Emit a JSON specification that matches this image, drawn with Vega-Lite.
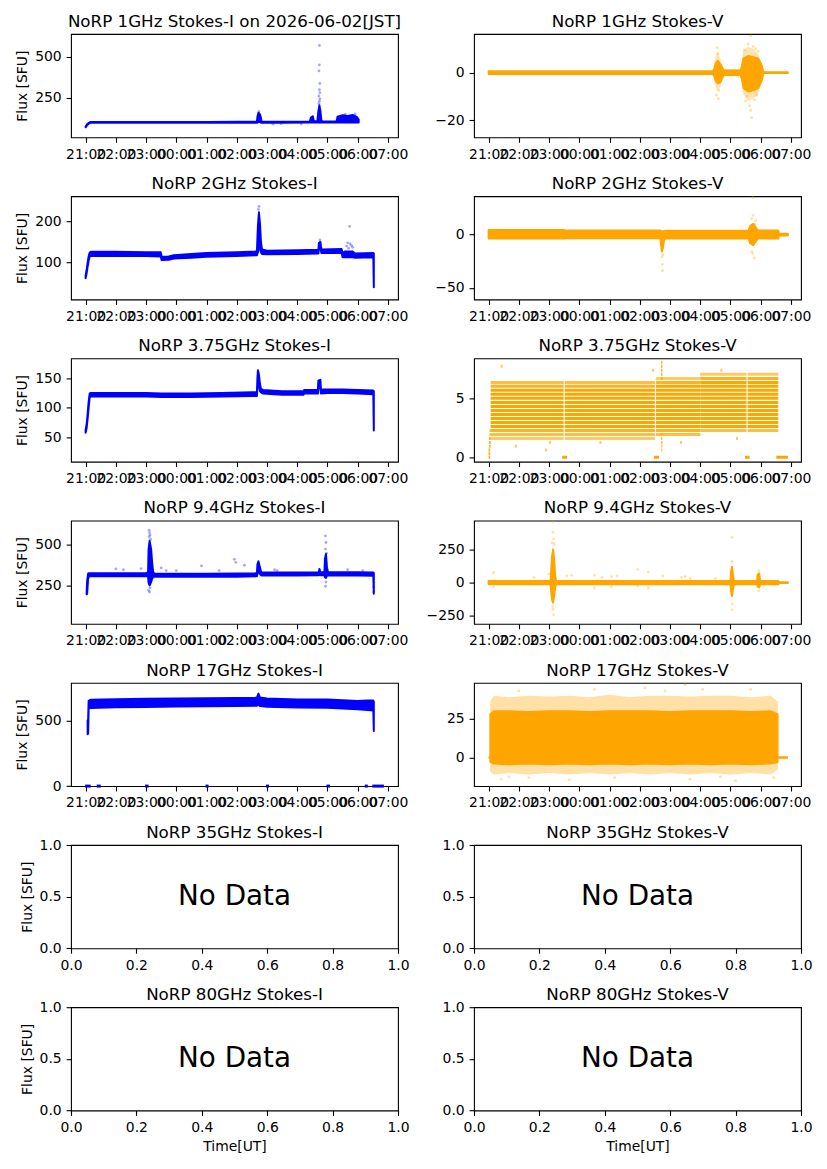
{
"$schema": "https://vega.github.io/schema/vega-lite/v6.json",
"background": "white",
"padding": {"left": 15, "top": 13, "right": 10, "bottom": 10},
"spacing": 13.2,
"resolve": {"scale": {"x": "independent", "y": "independent"}},
"config": {
  "font": "DejaVu Sans",
  "view": {"stroke": "#000000", "strokeWidth": 1.1},
  "axis": {"domain": false, "grid": false, "tickColor": "#000000", "tickWidth": 1.1, "tickSize": 4.9, "labelColor": "#000000", "labelFont": "DejaVu Sans", "labelFontSize": 13.9, "labelPadding": 4.9, "labelOverlap": false, "labelFlush": false, "titleColor": "#000000", "titleFont": "DejaVu Sans", "titleFontSize": 13.9, "titleFontWeight": "normal", "titlePadding": 5},
  "title": {"font": "DejaVu Sans", "fontSize": 16.7, "fontWeight": "normal", "color": "#000000", "offset": 3.6}
},
"vconcat": [
{"hconcat": [
{
 "title": "NoRP 1GHz Stokes-I on 2026-06-02[JST]", "width": 327, "height": 103.3,
 "encoding": {
  "x": {"field": "t", "type": "temporal", "scale": {"type": "utc", "nice": false, "domain": [1780345860000, 1780384800000]}, "axis": {"title": null, "format": "%H:%M", "values": [1780347600000, 1780351200000, 1780354800000, 1780358400000, 1780362000000, 1780365600000, 1780369200000, 1780372800000, 1780376400000, 1780380000000, 1780383600000]}},
  "y": {"field": "v", "type": "quantitative", "scale": {"domain": [10, 640], "nice": false, "zero": false}, "axis": {"title": "Flux [SFU]", "values": [250, 500]}}
 },
 "layer": [
  {"data": {"values": [
   {"t":"2026-06-01T21:00:00Z","v":71,"v2":75},{"t":"2026-06-01T21:02:00Z","v":79,"v2":85},{"t":"2026-06-01T21:04:00Z","v":87,"v2":93},{"t":"2026-06-01T21:07:00Z","v":95,"v2":100},{"t":"2026-06-01T21:10:00Z","v":98,"v2":104},{"t":"2026-06-01T22:00:00Z","v":98,"v2":104},{"t":"2026-06-01T23:00:00Z","v":98,"v2":104},{"t":"2026-06-02T00:00:00Z","v":98,"v2":104},{"t":"2026-06-02T01:00:00Z","v":99,"v2":104},{"t":"2026-06-02T02:00:00Z","v":99,"v2":105},{"t":"2026-06-02T02:40:00Z","v":99,"v2":105},{"t":"2026-06-02T02:41:00Z","v":100,"v2":135},{"t":"2026-06-02T02:43:00Z","v":104,"v2":160},{"t":"2026-06-02T02:46:00Z","v":104,"v2":150},{"t":"2026-06-02T02:48:00Z","v":100,"v2":128},{"t":"2026-06-02T02:49:00Z","v":99,"v2":105},{"t":"2026-06-02T03:30:00Z","v":99,"v2":105},{"t":"2026-06-02T04:25:00Z","v":100,"v2":106},{"t":"2026-06-02T04:27:00Z","v":100,"v2":130},{"t":"2026-06-02T04:31:00Z","v":100,"v2":138},{"t":"2026-06-02T04:33:00Z","v":100,"v2":106},{"t":"2026-06-02T04:40:00Z","v":100,"v2":110},{"t":"2026-06-02T04:42:00Z","v":100,"v2":170},{"t":"2026-06-02T04:44:00Z","v":100,"v2":205},{"t":"2026-06-02T04:46:00Z","v":100,"v2":170},{"t":"2026-06-02T04:48:00Z","v":100,"v2":112},{"t":"2026-06-02T04:50:00Z","v":100,"v2":106},{"t":"2026-06-02T05:18:00Z","v":100,"v2":107},{"t":"2026-06-02T05:20:00Z","v":100,"v2":135},{"t":"2026-06-02T05:30:00Z","v":100,"v2":145},{"t":"2026-06-02T05:40:00Z","v":100,"v2":140},{"t":"2026-06-02T05:50:00Z","v":100,"v2":146},{"t":"2026-06-02T05:58:00Z","v":100,"v2":135},{"t":"2026-06-02T06:02:00Z","v":100,"v2":118}
  ]}, "mark": {"type": "area", "fill": "#0000ff", "stroke": "#0000ff", "strokeWidth": 2, "strokeJoin": "round", "clip": true}, "encoding": {"y2": {"field": "v2"}}},
  {"data": {"values": [
   {"t":"2026-06-02T04:44:00Z","v":570},{"t":"2026-06-02T04:44:00Z","v":452},{"t":"2026-06-02T04:43:00Z","v":415},{"t":"2026-06-02T04:45:00Z","v":338},{"t":"2026-06-02T04:44:00Z","v":300},{"t":"2026-06-02T04:45:00Z","v":282},{"t":"2026-06-02T04:43:00Z","v":262},{"t":"2026-06-02T04:45:00Z","v":244},{"t":"2026-06-02T04:44:00Z","v":230},{"t":"2026-06-02T04:43:00Z","v":215},{"t":"2026-06-02T02:44:00Z","v":168},{"t":"2026-06-02T03:12:00Z","v":90},{"t":"2026-06-02T03:28:00Z","v":93},{"t":"2026-06-02T04:08:00Z","v":92},{"t":"2026-06-02T05:35:00Z","v":150},{"t":"2026-06-02T05:55:00Z","v":152}
  ]}, "mark": {"type": "point", "filled": true, "size": 8, "color": "#0000ff", "opacity": 0.35, "clip": true}, "encoding": {}}
 ]
},
{
 "title": "NoRP 1GHz Stokes-V", "width": 327, "height": 103.3,
 "encoding": {
  "x": {"field": "t", "type": "temporal", "scale": {"type": "utc", "nice": false, "domain": [1780345860000, 1780384800000]}, "axis": {"title": null, "format": "%H:%M", "values": [1780347600000, 1780351200000, 1780354800000, 1780358400000, 1780362000000, 1780365600000, 1780369200000, 1780372800000, 1780376400000, 1780380000000, 1780383600000]}},
  "y": {"field": "v", "type": "quantitative", "scale": {"domain": [-27.3, 16.3], "nice": false, "zero": false}, "axis": {"title": null, "values": [-20, 0]}}
 },
 "layer": [
  {"data": {"values": [
   {"t":"2026-06-02T04:26:00Z","v":-1,"v2":1},{"t":"2026-06-02T04:29:00Z","v":-5,"v2":6},{"t":"2026-06-02T04:34:00Z","v":-8,"v2":9},{"t":"2026-06-02T04:40:00Z","v":-6,"v2":6},{"t":"2026-06-02T04:45:00Z","v":-1.5,"v2":1.5},{"t":"2026-06-02T05:21:00Z","v":-1.5,"v2":1.5},{"t":"2026-06-02T05:25:00Z","v":-9,"v2":9},{"t":"2026-06-02T05:35:00Z","v":-12,"v2":11},{"t":"2026-06-02T05:45:00Z","v":-11,"v2":10},{"t":"2026-06-02T05:55:00Z","v":-9,"v2":8},{"t":"2026-06-02T06:03:00Z","v":-3,"v2":3},{"t":"2026-06-02T06:05:00Z","v":-0.6,"v2":0.6}
  ]}, "mark": {"type": "area", "fill": "#ffa500", "opacity": 0.3, "clip": true}, "encoding": {"y2": {"field": "v2"}}},
  {"data": {"values": [
   {"t":"2026-06-01T21:00:00Z","v":-0.55,"v2":0.55},{"t":"2026-06-02T04:25:00Z","v":-0.6,"v2":0.6},{"t":"2026-06-02T04:28:00Z","v":-1.5,"v2":1.5},{"t":"2026-06-02T04:31:00Z","v":-3.5,"v2":4},{"t":"2026-06-02T04:35:00Z","v":-4.5,"v2":5},{"t":"2026-06-02T04:40:00Z","v":-4,"v2":3.5},{"t":"2026-06-02T04:44:00Z","v":-2,"v2":2},{"t":"2026-06-02T04:47:00Z","v":-0.9,"v2":0.9},{"t":"2026-06-02T05:20:00Z","v":-1,"v2":1},{"t":"2026-06-02T05:23:00Z","v":-3,"v2":3},{"t":"2026-06-02T05:26:00Z","v":-6.5,"v2":6},{"t":"2026-06-02T05:35:00Z","v":-8,"v2":7},{"t":"2026-06-02T05:45:00Z","v":-7.5,"v2":6.5},{"t":"2026-06-02T05:55:00Z","v":-6.5,"v2":6},{"t":"2026-06-02T06:02:00Z","v":-3.5,"v2":3},{"t":"2026-06-02T06:05:00Z","v":-0.6,"v2":0.6},{"t":"2026-06-02T06:07:00Z","v":-0.15,"v2":0.15},{"t":"2026-06-02T06:54:00Z","v":-0.15,"v2":0.15}
  ]}, "mark": {"type": "area", "fill": "#ffa500", "stroke": "#ffa500", "strokeWidth": 2, "strokeJoin": "round", "clip": true}, "encoding": {"y2": {"field": "v2"}}},
  {"data": {"values": [
   {"t":"2026-06-02T04:33:00Z","v":10.5},{"t":"2026-06-02T04:35:00Z","v":8},{"t":"2026-06-02T04:37:00Z","v":-7.5},{"t":"2026-06-02T04:32:00Z","v":-9.5},{"t":"2026-06-02T04:36:00Z","v":-11},{"t":"2026-06-02T05:40:00Z","v":15.5},{"t":"2026-06-02T05:35:00Z","v":12},{"t":"2026-06-02T05:45:00Z","v":11},{"t":"2026-06-02T05:50:00Z","v":10},{"t":"2026-06-02T05:30:00Z","v":-12},{"t":"2026-06-02T05:38:00Z","v":-14},{"t":"2026-06-02T05:42:00Z","v":-19},{"t":"2026-06-02T05:48:00Z","v":-11.5},{"t":"2026-06-02T05:40:00Z","v":-16},{"t":"2026-06-02T05:28:00Z","v":9.5},{"t":"2026-06-02T05:55:00Z","v":9},{"t":"2026-06-02T05:52:00Z","v":-9.5},{"t":"2026-06-02T05:33:00Z","v":-10}
  ]}, "mark": {"type": "point", "filled": true, "size": 8, "color": "#ffa500", "opacity": 0.35, "clip": true}, "encoding": {}}
 ]
}
], "spacing": 76, "bounds": "flush", "resolve": {"scale": {"x": "independent", "y": "independent"}}},
{"hconcat": [
{
 "title": "NoRP 2GHz Stokes-I", "width": 327, "height": 103.3,
 "encoding": {
  "x": {"field": "t", "type": "temporal", "scale": {"type": "utc", "nice": false, "domain": [1780345860000, 1780384800000]}, "axis": {"title": null, "format": "%H:%M", "values": [1780347600000, 1780351200000, 1780354800000, 1780358400000, 1780362000000, 1780365600000, 1780369200000, 1780372800000, 1780376400000, 1780380000000, 1780383600000]}},
  "y": {"field": "v", "type": "quantitative", "scale": {"domain": [10.5, 261], "nice": false, "zero": false}, "axis": {"title": "Flux [SFU]", "values": [100, 200]}}
 },
 "layer": [
  {"data": {"values": [
   {"t":"2026-06-01T21:00:00Z","v":62,"v2":68},{"t":"2026-06-01T21:02:00Z","v":74,"v2":82},{"t":"2026-06-01T21:04:00Z","v":90,"v2":100},{"t":"2026-06-01T21:06:00Z","v":105,"v2":115},{"t":"2026-06-01T21:08:00Z","v":114,"v2":124},{"t":"2026-06-01T21:10:00Z","v":116,"v2":126},{"t":"2026-06-01T22:00:00Z","v":116,"v2":126},{"t":"2026-06-01T23:00:00Z","v":116,"v2":125},{"t":"2026-06-01T23:29:00Z","v":115,"v2":125},{"t":"2026-06-01T23:31:00Z","v":106,"v2":114},{"t":"2026-06-01T23:45:00Z","v":107,"v2":115},{"t":"2026-06-01T23:55:00Z","v":110,"v2":118},{"t":"2026-06-02T00:30:00Z","v":112,"v2":121},{"t":"2026-06-02T01:00:00Z","v":114,"v2":123},{"t":"2026-06-02T02:00:00Z","v":116,"v2":125},{"t":"2026-06-02T02:40:00Z","v":118,"v2":127},{"t":"2026-06-02T02:42:00Z","v":125,"v2":190},{"t":"2026-06-02T02:44:00Z","v":140,"v2":222},{"t":"2026-06-02T02:46:00Z","v":135,"v2":195},{"t":"2026-06-02T02:48:00Z","v":125,"v2":150},{"t":"2026-06-02T02:50:00Z","v":121,"v2":132},{"t":"2026-06-02T03:00:00Z","v":120,"v2":129},{"t":"2026-06-02T04:00:00Z","v":121,"v2":130},{"t":"2026-06-02T04:42:00Z","v":122,"v2":131},{"t":"2026-06-02T04:43:00Z","v":133,"v2":148},{"t":"2026-06-02T04:46:00Z","v":136,"v2":150},{"t":"2026-06-02T04:48:00Z","v":123,"v2":132},{"t":"2026-06-02T05:28:00Z","v":124,"v2":133},{"t":"2026-06-02T05:30:00Z","v":113,"v2":123},{"t":"2026-06-02T05:35:00Z","v":113,"v2":127},{"t":"2026-06-02T05:50:00Z","v":113,"v2":127},{"t":"2026-06-02T05:55:00Z","v":112,"v2":122},{"t":"2026-06-02T06:31:00Z","v":113,"v2":123},{"t":"2026-06-02T06:32:00Z","v":40,"v2":122}
  ]}, "mark": {"type": "area", "fill": "#0000ff", "stroke": "#0000ff", "strokeWidth": 2, "strokeJoin": "round", "clip": true}, "encoding": {"y2": {"field": "v2"}}},
  {"data": {"values": [
   {"t":"2026-06-02T02:44:00Z","v":236},{"t":"2026-06-02T02:43:00Z","v":229},{"t":"2026-06-02T05:44:00Z","v":188},{"t":"2026-06-02T05:40:00Z","v":148},{"t":"2026-06-02T05:45:00Z","v":145},{"t":"2026-06-02T05:48:00Z","v":141},{"t":"2026-06-02T05:38:00Z","v":140},{"t":"2026-06-02T05:50:00Z","v":137},{"t":"2026-06-02T04:45:00Z","v":155},{"t":"2026-06-02T05:42:00Z","v":135}
  ]}, "mark": {"type": "point", "filled": true, "size": 8, "color": "#0000ff", "opacity": 0.35, "clip": true}, "encoding": {}}
 ]
},
{
 "title": "NoRP 2GHz Stokes-V", "width": 327, "height": 103.3,
 "encoding": {
  "x": {"field": "t", "type": "temporal", "scale": {"type": "utc", "nice": false, "domain": [1780345860000, 1780384800000]}, "axis": {"title": null, "format": "%H:%M", "values": [1780347600000, 1780351200000, 1780354800000, 1780358400000, 1780362000000, 1780365600000, 1780369200000, 1780372800000, 1780376400000, 1780380000000, 1780383600000]}},
  "y": {"field": "v", "type": "quantitative", "scale": {"domain": [-61, 36], "nice": false, "zero": false}, "axis": {"title": null, "values": [-50, 0]}}
 },
 "layer": [
  {"data": {"values": [
   {"t":"2026-06-01T21:00:00Z","v":-3.8,"v2":4.2},{"t":"2026-06-01T23:30:00Z","v":-3.8,"v2":4.2},{"t":"2026-06-01T23:31:00Z","v":-3.5,"v2":3.8},{"t":"2026-06-02T02:41:00Z","v":-3.5,"v2":3.8},{"t":"2026-06-02T02:42:00Z","v":-9,"v2":3},{"t":"2026-06-02T02:44:00Z","v":-16,"v2":3},{"t":"2026-06-02T02:46:00Z","v":-12,"v2":3},{"t":"2026-06-02T02:48:00Z","v":-6,"v2":3},{"t":"2026-06-02T02:50:00Z","v":-3.5,"v2":3.5},{"t":"2026-06-02T05:36:00Z","v":-3.8,"v2":3.8},{"t":"2026-06-02T05:39:00Z","v":-8,"v2":8},{"t":"2026-06-02T05:45:00Z","v":-10,"v2":10},{"t":"2026-06-02T05:51:00Z","v":-6,"v2":6},{"t":"2026-06-02T05:54:00Z","v":-3.8,"v2":3.8},{"t":"2026-06-02T06:35:00Z","v":-3.8,"v2":3.8},{"t":"2026-06-02T06:36:00Z","v":-0.8,"v2":0.8},{"t":"2026-06-02T06:54:00Z","v":-0.8,"v2":0.8}
  ]}, "mark": {"type": "area", "fill": "#ffa500", "stroke": "#ffa500", "strokeWidth": 2, "strokeJoin": "round", "clip": true}, "encoding": {"y2": {"field": "v2"}}},
  {"data": {"values": [
   {"t":"2026-06-02T02:44:00Z","v":-21},{"t":"2026-06-02T02:45:00Z","v":-28},{"t":"2026-06-02T02:45:00Z","v":-34},{"t":"2026-06-02T02:46:00Z","v":-19},{"t":"2026-06-02T05:45:00Z","v":18},{"t":"2026-06-02T05:42:00Z","v":15},{"t":"2026-06-02T05:44:00Z","v":35},{"t":"2026-06-02T05:44:00Z","v":-18},{"t":"2026-06-02T05:47:00Z","v":-22},{"t":"2026-06-02T05:42:00Z","v":-16},{"t":"2026-06-02T05:48:00Z","v":10},{"t":"2026-06-02T05:50:00Z","v":13}
  ]}, "mark": {"type": "point", "filled": true, "size": 8, "color": "#ffa500", "opacity": 0.35, "clip": true}, "encoding": {}}
 ]
}
], "spacing": 76, "bounds": "flush", "resolve": {"scale": {"x": "independent", "y": "independent"}}},
{"hconcat": [
{
 "title": "NoRP 3.75GHz Stokes-I", "width": 327, "height": 103.3,
 "encoding": {
  "x": {"field": "t", "type": "temporal", "scale": {"type": "utc", "nice": false, "domain": [1780345860000, 1780384800000]}, "axis": {"title": null, "format": "%H:%M", "values": [1780347600000, 1780351200000, 1780354800000, 1780358400000, 1780362000000, 1780365600000, 1780369200000, 1780372800000, 1780376400000, 1780380000000, 1780383600000]}},
  "y": {"field": "v", "type": "quantitative", "scale": {"domain": [9.6, 183], "nice": false, "zero": false}, "axis": {"title": "Flux [SFU]", "values": [50, 100, 150]}}
 },
 "layer": [
  {"data": {"values": [
   {"t":"2026-06-01T21:00:00Z","v":58,"v2":63},{"t":"2026-06-01T21:02:00Z","v":66,"v2":72},{"t":"2026-06-01T21:04:00Z","v":82,"v2":90},{"t":"2026-06-01T21:06:00Z","v":100,"v2":110},{"t":"2026-06-01T21:08:00Z","v":117,"v2":124},{"t":"2026-06-01T21:10:00Z","v":119,"v2":125},{"t":"2026-06-01T22:00:00Z","v":119,"v2":125},{"t":"2026-06-01T23:00:00Z","v":119,"v2":125},{"t":"2026-06-01T23:30:00Z","v":118,"v2":124},{"t":"2026-06-02T00:30:00Z","v":118,"v2":124},{"t":"2026-06-02T01:30:00Z","v":119,"v2":125},{"t":"2026-06-02T02:30:00Z","v":120,"v2":126},{"t":"2026-06-02T02:40:00Z","v":120,"v2":126},{"t":"2026-06-02T02:41:00Z","v":135,"v2":150},{"t":"2026-06-02T02:42:00Z","v":145,"v2":163},{"t":"2026-06-02T02:44:00Z","v":138,"v2":156},{"t":"2026-06-02T02:46:00Z","v":128,"v2":140},{"t":"2026-06-02T02:48:00Z","v":126,"v2":132},{"t":"2026-06-02T02:52:00Z","v":124,"v2":130},{"t":"2026-06-02T03:30:00Z","v":122,"v2":128},{"t":"2026-06-02T04:12:00Z","v":122,"v2":128},{"t":"2026-06-02T04:14:00Z","v":124,"v2":130},{"t":"2026-06-02T04:41:00Z","v":124,"v2":130},{"t":"2026-06-02T04:42:00Z","v":132,"v2":146},{"t":"2026-06-02T04:46:00Z","v":135,"v2":147},{"t":"2026-06-02T04:47:00Z","v":124,"v2":131},{"t":"2026-06-02T05:00:00Z","v":125,"v2":131},{"t":"2026-06-02T05:30:00Z","v":125,"v2":131},{"t":"2026-06-02T06:00:00Z","v":124,"v2":130},{"t":"2026-06-02T06:31:00Z","v":123,"v2":129},{"t":"2026-06-02T06:32:00Z","v":62,"v2":128}
  ]}, "mark": {"type": "area", "fill": "#0000ff", "stroke": "#0000ff", "strokeWidth": 2, "strokeJoin": "round", "clip": true}, "encoding": {"y2": {"field": "v2"}}}
 ]
},
{
 "title": "NoRP 3.75GHz Stokes-V", "width": 327, "height": 103.3,
 "encoding": {
  "x": {"field": "t", "type": "temporal", "scale": {"type": "utc", "nice": false, "domain": [1780345860000, 1780384800000]}, "axis": {"title": null, "format": "%H:%M", "values": [1780347600000, 1780351200000, 1780354800000, 1780358400000, 1780362000000, 1780365600000, 1780369200000, 1780372800000, 1780376400000, 1780380000000, 1780383600000]}},
  "y": {"field": "v", "type": "quantitative", "scale": {"domain": [-0.37, 8.46], "nice": false, "zero": false}, "axis": {"title": null, "values": [0, 5]}}
 },
 "layer": [
  {"data": {"format": {"parse": {"t": "date", "t2": "date"}}, "values": [
   {"t":"2026-06-01T21:04:00Z","t2":"2026-06-01T23:29:00Z","v":1.61,"d":"faint"},{"t":"2026-06-01T21:04:00Z","t2":"2026-06-01T23:29:00Z","v":1.95,"d":"sparse"},{"t":"2026-06-01T21:04:00Z","t2":"2026-06-01T23:29:00Z","v":2.29,"d":"medium"},{"t":"2026-06-01T21:04:00Z","t2":"2026-06-01T23:29:00Z","v":2.63,"d":"dense"},{"t":"2026-06-01T21:04:00Z","t2":"2026-06-01T23:29:00Z","v":2.98,"d":"dense"},{"t":"2026-06-01T21:04:00Z","t2":"2026-06-01T23:29:00Z","v":3.32,"d":"dense"},{"t":"2026-06-01T21:04:00Z","t2":"2026-06-01T23:29:00Z","v":3.66,"d":"dense"},{"t":"2026-06-01T21:04:00Z","t2":"2026-06-01T23:29:00Z","v":4.0,"d":"dense"},{"t":"2026-06-01T21:04:00Z","t2":"2026-06-01T23:29:00Z","v":4.35,"d":"dense"},{"t":"2026-06-01T21:04:00Z","t2":"2026-06-01T23:29:00Z","v":4.69,"d":"dense"},{"t":"2026-06-01T21:04:00Z","t2":"2026-06-01T23:29:00Z","v":5.05,"d":"dense"},{"t":"2026-06-01T21:04:00Z","t2":"2026-06-01T23:29:00Z","v":5.4,"d":"dense"},{"t":"2026-06-01T21:04:00Z","t2":"2026-06-01T23:29:00Z","v":5.74,"d":"dense"},{"t":"2026-06-01T21:04:00Z","t2":"2026-06-01T23:29:00Z","v":6.07,"d":"medium"},{"t":"2026-06-01T21:04:00Z","t2":"2026-06-01T23:29:00Z","v":6.41,"d":"sparse"},
   {"t":"2026-06-01T23:31:00Z","t2":"2026-06-02T02:30:00Z","v":1.61,"d":"faint"},{"t":"2026-06-01T23:31:00Z","t2":"2026-06-02T02:30:00Z","v":1.95,"d":"sparse"},{"t":"2026-06-01T23:31:00Z","t2":"2026-06-02T02:30:00Z","v":2.29,"d":"medium"},{"t":"2026-06-01T23:31:00Z","t2":"2026-06-02T02:30:00Z","v":2.63,"d":"dense"},{"t":"2026-06-01T23:31:00Z","t2":"2026-06-02T02:30:00Z","v":2.98,"d":"dense"},{"t":"2026-06-01T23:31:00Z","t2":"2026-06-02T02:30:00Z","v":3.32,"d":"dense"},{"t":"2026-06-01T23:31:00Z","t2":"2026-06-02T02:30:00Z","v":3.66,"d":"dense"},{"t":"2026-06-01T23:31:00Z","t2":"2026-06-02T02:30:00Z","v":4.0,"d":"dense"},{"t":"2026-06-01T23:31:00Z","t2":"2026-06-02T02:30:00Z","v":4.35,"d":"dense"},{"t":"2026-06-01T23:31:00Z","t2":"2026-06-02T02:30:00Z","v":4.69,"d":"dense"},{"t":"2026-06-01T23:31:00Z","t2":"2026-06-02T02:30:00Z","v":5.05,"d":"dense"},{"t":"2026-06-01T23:31:00Z","t2":"2026-06-02T02:30:00Z","v":5.4,"d":"dense"},{"t":"2026-06-01T23:31:00Z","t2":"2026-06-02T02:30:00Z","v":5.74,"d":"dense"},{"t":"2026-06-01T23:31:00Z","t2":"2026-06-02T02:30:00Z","v":6.07,"d":"medium"},{"t":"2026-06-01T23:31:00Z","t2":"2026-06-02T02:30:00Z","v":6.41,"d":"sparse"},
   {"t":"2026-06-02T02:32:00Z","t2":"2026-06-02T04:00:00Z","v":1.95,"d":"sparse"},{"t":"2026-06-02T02:32:00Z","t2":"2026-06-02T04:00:00Z","v":2.29,"d":"medium"},{"t":"2026-06-02T02:32:00Z","t2":"2026-06-02T04:00:00Z","v":2.63,"d":"dense"},{"t":"2026-06-02T02:32:00Z","t2":"2026-06-02T04:00:00Z","v":2.98,"d":"dense"},{"t":"2026-06-02T02:32:00Z","t2":"2026-06-02T04:00:00Z","v":3.32,"d":"dense"},{"t":"2026-06-02T02:32:00Z","t2":"2026-06-02T04:00:00Z","v":3.66,"d":"dense"},{"t":"2026-06-02T02:32:00Z","t2":"2026-06-02T04:00:00Z","v":4.0,"d":"dense"},{"t":"2026-06-02T02:32:00Z","t2":"2026-06-02T04:00:00Z","v":4.35,"d":"dense"},{"t":"2026-06-02T02:32:00Z","t2":"2026-06-02T04:00:00Z","v":4.69,"d":"dense"},{"t":"2026-06-02T02:32:00Z","t2":"2026-06-02T04:00:00Z","v":5.05,"d":"dense"},{"t":"2026-06-02T02:32:00Z","t2":"2026-06-02T04:00:00Z","v":5.4,"d":"dense"},{"t":"2026-06-02T02:32:00Z","t2":"2026-06-02T04:00:00Z","v":5.74,"d":"dense"},{"t":"2026-06-02T02:32:00Z","t2":"2026-06-02T04:00:00Z","v":6.07,"d":"dense"},{"t":"2026-06-02T02:32:00Z","t2":"2026-06-02T04:00:00Z","v":6.41,"d":"medium"},{"t":"2026-06-02T02:32:00Z","t2":"2026-06-02T04:00:00Z","v":6.75,"d":"faint"},
   {"t":"2026-06-02T04:00:00Z","t2":"2026-06-02T05:32:00Z","v":2.29,"d":"sparse"},{"t":"2026-06-02T04:00:00Z","t2":"2026-06-02T05:32:00Z","v":2.63,"d":"dense"},{"t":"2026-06-02T04:00:00Z","t2":"2026-06-02T05:32:00Z","v":2.98,"d":"dense"},{"t":"2026-06-02T04:00:00Z","t2":"2026-06-02T05:32:00Z","v":3.32,"d":"dense"},{"t":"2026-06-02T04:00:00Z","t2":"2026-06-02T05:32:00Z","v":3.66,"d":"dense"},{"t":"2026-06-02T04:00:00Z","t2":"2026-06-02T05:32:00Z","v":4.0,"d":"dense"},{"t":"2026-06-02T04:00:00Z","t2":"2026-06-02T05:32:00Z","v":4.35,"d":"dense"},{"t":"2026-06-02T04:00:00Z","t2":"2026-06-02T05:32:00Z","v":4.69,"d":"dense"},{"t":"2026-06-02T04:00:00Z","t2":"2026-06-02T05:32:00Z","v":5.05,"d":"dense"},{"t":"2026-06-02T04:00:00Z","t2":"2026-06-02T05:32:00Z","v":5.4,"d":"dense"},{"t":"2026-06-02T04:00:00Z","t2":"2026-06-02T05:32:00Z","v":5.74,"d":"dense"},{"t":"2026-06-02T04:00:00Z","t2":"2026-06-02T05:32:00Z","v":6.07,"d":"dense"},{"t":"2026-06-02T04:00:00Z","t2":"2026-06-02T05:32:00Z","v":6.41,"d":"dense"},{"t":"2026-06-02T04:00:00Z","t2":"2026-06-02T05:32:00Z","v":6.75,"d":"medium"},{"t":"2026-06-02T04:00:00Z","t2":"2026-06-02T05:32:00Z","v":7.1,"d":"faint"},
   {"t":"2026-06-02T05:34:00Z","t2":"2026-06-02T06:35:00Z","v":2.29,"d":"sparse"},{"t":"2026-06-02T05:34:00Z","t2":"2026-06-02T06:35:00Z","v":2.63,"d":"dense"},{"t":"2026-06-02T05:34:00Z","t2":"2026-06-02T06:35:00Z","v":2.98,"d":"dense"},{"t":"2026-06-02T05:34:00Z","t2":"2026-06-02T06:35:00Z","v":3.32,"d":"dense"},{"t":"2026-06-02T05:34:00Z","t2":"2026-06-02T06:35:00Z","v":3.66,"d":"dense"},{"t":"2026-06-02T05:34:00Z","t2":"2026-06-02T06:35:00Z","v":4.0,"d":"dense"},{"t":"2026-06-02T05:34:00Z","t2":"2026-06-02T06:35:00Z","v":4.35,"d":"dense"},{"t":"2026-06-02T05:34:00Z","t2":"2026-06-02T06:35:00Z","v":4.69,"d":"dense"},{"t":"2026-06-02T05:34:00Z","t2":"2026-06-02T06:35:00Z","v":5.05,"d":"dense"},{"t":"2026-06-02T05:34:00Z","t2":"2026-06-02T06:35:00Z","v":5.4,"d":"dense"},{"t":"2026-06-02T05:34:00Z","t2":"2026-06-02T06:35:00Z","v":5.74,"d":"dense"},{"t":"2026-06-02T05:34:00Z","t2":"2026-06-02T06:35:00Z","v":6.07,"d":"dense"},{"t":"2026-06-02T05:34:00Z","t2":"2026-06-02T06:35:00Z","v":6.41,"d":"dense"},{"t":"2026-06-02T05:34:00Z","t2":"2026-06-02T06:35:00Z","v":6.75,"d":"medium"},{"t":"2026-06-02T05:34:00Z","t2":"2026-06-02T06:35:00Z","v":7.1,"d":"faint"},
   {"t":"2026-06-01T21:00:00Z","t2":"2026-06-01T21:03:00Z","v":0,"d":"dense"},{"t":"2026-06-01T21:00:00Z","t2":"2026-06-01T21:03:00Z","v":0.3,"d":"dense"},{"t":"2026-06-01T21:00:00Z","t2":"2026-06-01T21:03:00Z","v":0.62,"d":"dense"},{"t":"2026-06-01T21:01:00Z","t2":"2026-06-01T21:04:00Z","v":0.96,"d":"dense"},{"t":"2026-06-01T21:01:00Z","t2":"2026-06-01T21:04:00Z","v":1.28,"d":"dense"},{"t":"2026-06-01T21:01:00Z","t2":"2026-06-01T21:04:00Z","v":1.61,"d":"dense"},{"t":"2026-06-01T21:02:00Z","t2":"2026-06-01T21:04:00Z","v":1.95,"d":"dense"},{"t":"2026-06-01T21:02:00Z","t2":"2026-06-01T21:04:00Z","v":2.29,"d":"dense"},
   {"t":"2026-06-02T02:42:00Z","t2":"2026-06-02T02:45:00Z","v":6.75,"d":"medium"},{"t":"2026-06-02T02:42:00Z","t2":"2026-06-02T02:45:00Z","v":7.1,"d":"medium"},{"t":"2026-06-02T02:42:00Z","t2":"2026-06-02T02:45:00Z","v":7.44,"d":"medium"},{"t":"2026-06-02T02:42:00Z","t2":"2026-06-02T02:45:00Z","v":7.78,"d":"medium"},{"t":"2026-06-02T02:42:00Z","t2":"2026-06-02T02:45:00Z","v":8.12,"d":"sparse"},{"t":"2026-06-02T02:42:00Z","t2":"2026-06-02T02:45:00Z","v":1.95,"d":"sparse"},{"t":"2026-06-02T02:42:00Z","t2":"2026-06-02T02:45:00Z","v":1.61,"d":"sparse"},{"t":"2026-06-02T02:42:00Z","t2":"2026-06-02T02:45:00Z","v":1.28,"d":"sparse"},{"t":"2026-06-02T02:42:00Z","t2":"2026-06-02T02:45:00Z","v":0.96,"d":"faint"},{"t":"2026-06-02T02:42:00Z","t2":"2026-06-02T02:45:00Z","v":0.62,"d":"faint"},
   {"t":"2026-06-01T23:26:00Z","t2":"2026-06-01T23:36:00Z","v":0,"d":"dense"},{"t":"2026-06-02T02:28:00Z","t2":"2026-06-02T02:38:00Z","v":0,"d":"dense"},{"t":"2026-06-02T05:29:00Z","t2":"2026-06-02T05:38:00Z","v":0,"d":"dense"},{"t":"2026-06-02T06:31:00Z","t2":"2026-06-02T06:54:00Z","v":0,"d":"dense"},
   {"t":"2026-06-01T21:24:00Z","t2":"2026-06-01T21:28:00Z","v":7.78,"d":"faint"},{"t":"2026-06-02T02:24:00Z","t2":"2026-06-02T02:28:00Z","v":7.44,"d":"faint"},{"t":"2026-06-01T21:52:00Z","t2":"2026-06-01T21:56:00Z","v":0.96,"d":"faint"},{"t":"2026-06-01T22:52:00Z","t2":"2026-06-01T22:56:00Z","v":0.62,"d":"faint"},{"t":"2026-06-02T05:11:00Z","t2":"2026-06-02T05:15:00Z","v":1.61,"d":"faint"},{"t":"2026-06-01T23:00:00Z","t2":"2026-06-01T23:04:00Z","v":1.28,"d":"faint"},{"t":"2026-06-02T00:40:00Z","t2":"2026-06-02T00:44:00Z","v":1.28,"d":"faint"},{"t":"2026-06-02T03:20:00Z","t2":"2026-06-02T03:24:00Z","v":1.28,"d":"faint"},{"t":"2026-06-02T04:40:00Z","t2":"2026-06-02T04:44:00Z","v":7.44,"d":"faint"}
  ]}, "mark": {"type": "rule", "color": "#ffa500", "strokeWidth": 3, "strokeCap": "butt", "clip": true},
  "encoding": {"x2": {"field": "t2"}, "opacity": {"field": "d", "type": "nominal", "scale": {"domain": ["dense", "medium", "sparse", "faint"], "range": [1, 0.6, 0.3, 0.14]}, "legend": null}}}
 ]
}
], "spacing": 76, "bounds": "flush", "resolve": {"scale": {"x": "independent", "y": "independent"}}},
{"hconcat": [
{
 "title": "NoRP 9.4GHz Stokes-I", "width": 327, "height": 103.3,
 "encoding": {
  "x": {"field": "t", "type": "temporal", "scale": {"type": "utc", "nice": false, "domain": [1780345860000, 1780384800000]}, "axis": {"title": null, "format": "%H:%M", "values": [1780347600000, 1780351200000, 1780354800000, 1780358400000, 1780362000000, 1780365600000, 1780369200000, 1780372800000, 1780376400000, 1780380000000, 1780383600000]}},
  "y": {"field": "v", "type": "quantitative", "scale": {"domain": [16.5, 643], "nice": false, "zero": false}, "axis": {"title": "Flux [SFU]", "values": [250, 500]}}
 },
 "layer": [
  {"data": {"values": [
   {"t":"2026-06-01T21:02:00Z","v":196,"v2":206},{"t":"2026-06-01T21:03:00Z","v":198,"v2":275},{"t":"2026-06-01T21:05:00Z","v":290,"v2":322},{"t":"2026-06-01T21:07:00Z","v":306,"v2":324},{"t":"2026-06-01T22:00:00Z","v":306,"v2":324},{"t":"2026-06-01T23:00:00Z","v":306,"v2":324},{"t":"2026-06-01T23:04:00Z","v":302,"v2":330},{"t":"2026-06-01T23:05:00Z","v":265,"v2":470},{"t":"2026-06-01T23:07:00Z","v":250,"v2":520},{"t":"2026-06-01T23:10:00Z","v":270,"v2":470},{"t":"2026-06-01T23:12:00Z","v":290,"v2":390},{"t":"2026-06-01T23:14:00Z","v":302,"v2":332},{"t":"2026-06-01T23:16:00Z","v":304,"v2":322},{"t":"2026-06-02T00:00:00Z","v":302,"v2":320},{"t":"2026-06-02T01:00:00Z","v":302,"v2":320},{"t":"2026-06-02T02:00:00Z","v":303,"v2":322},{"t":"2026-06-02T02:40:00Z","v":305,"v2":324},{"t":"2026-06-02T02:41:00Z","v":320,"v2":378},{"t":"2026-06-02T02:43:00Z","v":328,"v2":396},{"t":"2026-06-02T02:46:00Z","v":320,"v2":360},{"t":"2026-06-02T02:48:00Z","v":312,"v2":335},{"t":"2026-06-02T02:50:00Z","v":310,"v2":328},{"t":"2026-06-02T04:00:00Z","v":310,"v2":328},{"t":"2026-06-02T04:43:00Z","v":312,"v2":330},{"t":"2026-06-02T04:44:00Z","v":318,"v2":350},{"t":"2026-06-02T04:46:00Z","v":312,"v2":330},{"t":"2026-06-02T04:54:00Z","v":312,"v2":330},{"t":"2026-06-02T04:55:00Z","v":300,"v2":410},{"t":"2026-06-02T04:57:00Z","v":295,"v2":440},{"t":"2026-06-02T04:59:00Z","v":310,"v2":360},{"t":"2026-06-02T05:01:00Z","v":312,"v2":331},{"t":"2026-06-02T06:00:00Z","v":310,"v2":329},{"t":"2026-06-02T06:31:00Z","v":308,"v2":328},{"t":"2026-06-02T06:32:00Z","v":200,"v2":325}
  ]}, "mark": {"type": "area", "fill": "#0000ff", "stroke": "#0000ff", "strokeWidth": 2, "strokeJoin": "round", "clip": true}, "encoding": {"y2": {"field": "v2"}}},
  {"data": {"values": [
   {"t":"2026-06-01T23:06:00Z","v":585},{"t":"2026-06-01T23:07:00Z","v":570},{"t":"2026-06-01T23:08:00Z","v":555},{"t":"2026-06-01T23:06:00Z","v":545},{"t":"2026-06-01T23:09:00Z","v":530},{"t":"2026-06-01T23:05:00Z","v":220},{"t":"2026-06-01T23:07:00Z","v":210},{"t":"2026-06-01T23:08:00Z","v":235},{"t":"2026-06-02T04:56:00Z","v":550},{"t":"2026-06-02T04:57:00Z","v":510},{"t":"2026-06-02T04:56:00Z","v":470},{"t":"2026-06-02T04:58:00Z","v":445},{"t":"2026-06-02T04:56:00Z","v":245},{"t":"2026-06-02T04:57:00Z","v":270},{"t":"2026-06-01T22:50:00Z","v":352},{"t":"2026-06-02T00:50:00Z","v":368},{"t":"2026-06-02T01:55:00Z","v":408},{"t":"2026-06-02T01:58:00Z","v":390},{"t":"2026-06-02T02:15:00Z","v":372},{"t":"2026-06-02T01:25:00Z","v":340},{"t":"2026-06-01T23:30:00Z","v":356},{"t":"2026-06-01T22:00:00Z","v":350},{"t":"2026-06-01T22:15:00Z","v":345},{"t":"2026-06-02T00:00:00Z","v":340},{"t":"2026-06-02T03:15:00Z","v":345},{"t":"2026-06-02T03:20:00Z","v":340},{"t":"2026-06-02T05:40:00Z","v":345},{"t":"2026-06-02T06:10:00Z","v":340},{"t":"2026-06-01T23:40:00Z","v":340},{"t":"2026-06-02T06:32:00Z","v":210},{"t":"2026-06-02T06:32:00Z","v":240}
  ]}, "mark": {"type": "point", "filled": true, "size": 8, "color": "#0000ff", "opacity": 0.35, "clip": true}, "encoding": {}}
 ]
},
{
 "title": "NoRP 9.4GHz Stokes-V", "width": 327, "height": 103.3,
 "encoding": {
  "x": {"field": "t", "type": "temporal", "scale": {"type": "utc", "nice": false, "domain": [1780345860000, 1780384800000]}, "axis": {"title": null, "format": "%H:%M", "values": [1780347600000, 1780351200000, 1780354800000, 1780358400000, 1780362000000, 1780365600000, 1780369200000, 1780372800000, 1780376400000, 1780380000000, 1780383600000]}},
  "y": {"field": "v", "type": "quantitative", "scale": {"domain": [-310, 467], "nice": false, "zero": false}, "axis": {"title": null, "values": [-250, 0, 250]}}
 },
 "layer": [
  {"data": {"values": [
   {"t":"2026-06-01T21:00:00Z","v":-12,"v2":12},{"t":"2026-06-01T23:03:00Z","v":-12,"v2":12},{"t":"2026-06-01T23:04:00Z","v":-60,"v2":80},{"t":"2026-06-01T23:06:00Z","v":-130,"v2":200},{"t":"2026-06-01T23:08:00Z","v":-150,"v2":250},{"t":"2026-06-01T23:10:00Z","v":-100,"v2":180},{"t":"2026-06-01T23:12:00Z","v":-40,"v2":50},{"t":"2026-06-01T23:14:00Z","v":-12,"v2":12},{"t":"2026-06-02T05:00:00Z","v":-12,"v2":12},{"t":"2026-06-02T05:01:00Z","v":-60,"v2":80},{"t":"2026-06-02T05:03:00Z","v":-100,"v2":120},{"t":"2026-06-02T05:05:00Z","v":-50,"v2":60},{"t":"2026-06-02T05:07:00Z","v":-12,"v2":12},{"t":"2026-06-02T05:53:00Z","v":-12,"v2":12},{"t":"2026-06-02T05:54:00Z","v":-30,"v2":60},{"t":"2026-06-02T05:57:00Z","v":-35,"v2":70},{"t":"2026-06-02T05:59:00Z","v":-12,"v2":12},{"t":"2026-06-02T06:35:00Z","v":-12,"v2":12},{"t":"2026-06-02T06:36:00Z","v":-3,"v2":3},{"t":"2026-06-02T06:54:00Z","v":-3,"v2":3}
  ]}, "mark": {"type": "area", "fill": "#ffa500", "stroke": "#ffa500", "strokeWidth": 2, "strokeJoin": "round", "clip": true}, "encoding": {"y2": {"field": "v2"}}},
  {"data": {"values": [
   {"t":"2026-06-01T23:07:00Z","v":460},{"t":"2026-06-01T23:08:00Z","v":380},{"t":"2026-06-01T23:09:00Z","v":330},{"t":"2026-06-01T23:06:00Z","v":300},{"t":"2026-06-01T23:10:00Z","v":290},{"t":"2026-06-01T23:08:00Z","v":-200},{"t":"2026-06-01T23:09:00Z","v":-242},{"t":"2026-06-01T23:07:00Z","v":-180},{"t":"2026-06-01T21:10:00Z","v":75},{"t":"2026-06-01T21:10:00Z","v":-30},{"t":"2026-06-01T22:30:00Z","v":40},{"t":"2026-06-01T23:00:00Z","v":65},{"t":"2026-06-01T23:35:00Z","v":50},{"t":"2026-06-01T23:45:00Z","v":55},{"t":"2026-06-02T00:30:00Z","v":55},{"t":"2026-06-02T00:30:00Z","v":-40},{"t":"2026-06-02T00:45:00Z","v":40},{"t":"2026-06-02T01:04:00Z","v":45},{"t":"2026-06-02T01:04:00Z","v":-30},{"t":"2026-06-02T01:15:00Z","v":50},{"t":"2026-06-02T01:56:00Z","v":100},{"t":"2026-06-02T01:56:00Z","v":-25},{"t":"2026-06-02T02:17:00Z","v":80},{"t":"2026-06-02T02:17:00Z","v":-40},{"t":"2026-06-02T02:46:00Z","v":50},{"t":"2026-06-02T03:23:00Z","v":40},{"t":"2026-06-02T03:30:00Z","v":45},{"t":"2026-06-02T03:40:00Z","v":30},{"t":"2026-06-02T04:30:00Z","v":30},{"t":"2026-06-02T05:03:00Z","v":341},{"t":"2026-06-02T05:03:00Z","v":160},{"t":"2026-06-02T05:04:00Z","v":-160},{"t":"2026-06-02T05:03:00Z","v":-205},{"t":"2026-06-02T05:56:00Z","v":90},{"t":"2026-06-02T05:56:00Z","v":-60}
  ]}, "mark": {"type": "point", "filled": true, "size": 8, "color": "#ffa500", "opacity": 0.35, "clip": true}, "encoding": {}}
 ]
}
], "spacing": 76, "bounds": "flush", "resolve": {"scale": {"x": "independent", "y": "independent"}}},
{"hconcat": [
{
 "title": "NoRP 17GHz Stokes-I", "width": 327, "height": 103.3,
 "encoding": {
  "x": {"field": "t", "type": "temporal", "scale": {"type": "utc", "nice": false, "domain": [1780345860000, 1780384800000]}, "axis": {"title": null, "format": "%H:%M", "values": [1780347600000, 1780351200000, 1780354800000, 1780358400000, 1780362000000, 1780365600000, 1780369200000, 1780372800000, 1780376400000, 1780380000000, 1780383600000]}},
  "y": {"field": "v", "type": "quantitative", "scale": {"domain": [0, 787], "nice": false, "zero": false}, "axis": {"title": "Flux [SFU]", "values": [0, 500]}}
 },
 "layer": [
  {"data": {"values": [
   {"t":"2026-06-01T21:04:00Z","v":395,"v2":500},{"t":"2026-06-01T21:05:00Z","v":400,"v2":505},{"t":"2026-06-01T21:06:00Z","v":590,"v2":650},{"t":"2026-06-01T21:10:00Z","v":595,"v2":658},{"t":"2026-06-01T22:00:00Z","v":600,"v2":662},{"t":"2026-06-01T23:00:00Z","v":603,"v2":665},{"t":"2026-06-02T00:00:00Z","v":606,"v2":668},{"t":"2026-06-02T01:00:00Z","v":608,"v2":670},{"t":"2026-06-02T02:00:00Z","v":610,"v2":672},{"t":"2026-06-02T02:40:00Z","v":612,"v2":674},{"t":"2026-06-02T02:43:00Z","v":620,"v2":705},{"t":"2026-06-02T02:46:00Z","v":610,"v2":675},{"t":"2026-06-02T03:00:00Z","v":605,"v2":668},{"t":"2026-06-02T04:00:00Z","v":598,"v2":660},{"t":"2026-06-02T05:00:00Z","v":597,"v2":660},{"t":"2026-06-02T05:30:00Z","v":592,"v2":655},{"t":"2026-06-02T06:00:00Z","v":585,"v2":648},{"t":"2026-06-02T06:20:00Z","v":580,"v2":652},{"t":"2026-06-02T06:31:00Z","v":575,"v2":652},{"t":"2026-06-02T06:32:00Z","v":420,"v2":640}
  ]}, "mark": {"type": "area", "fill": "#0000ff", "stroke": "#0000ff", "strokeWidth": 2, "strokeJoin": "round", "clip": true}, "encoding": {"y2": {"field": "v2"}}},
  {"data": {"format": {"parse": {"t": "date", "t2": "date"}}, "values": [
   {"t":"2026-06-01T20:59:00Z","t2":"2026-06-01T21:10:00Z","v":0},{"t":"2026-06-01T21:22:00Z","t2":"2026-06-01T21:30:00Z","v":0},{"t":"2026-06-01T22:58:00Z","t2":"2026-06-01T23:05:00Z","v":0},{"t":"2026-06-02T00:58:00Z","t2":"2026-06-02T01:04:00Z","v":0},{"t":"2026-06-02T02:58:00Z","t2":"2026-06-02T03:04:00Z","v":0},{"t":"2026-06-02T04:58:00Z","t2":"2026-06-02T05:05:00Z","v":0},{"t":"2026-06-02T06:14:00Z","t2":"2026-06-02T06:20:00Z","v":0},{"t":"2026-06-02T06:29:00Z","t2":"2026-06-02T06:52:00Z","v":0}
  ]}, "mark": {"type": "rule", "color": "#0000ff", "strokeWidth": 3, "strokeCap": "butt"}, "encoding": {"x2": {"field": "t2"}}}
 ]
},
{
 "title": "NoRP 17GHz Stokes-V", "width": 327, "height": 103.3,
 "encoding": {
  "x": {"field": "t", "type": "temporal", "scale": {"type": "utc", "nice": false, "domain": [1780345860000, 1780384800000]}, "axis": {"title": null, "format": "%H:%M", "values": [1780347600000, 1780351200000, 1780354800000, 1780358400000, 1780362000000, 1780365600000, 1780369200000, 1780372800000, 1780376400000, 1780380000000, 1780383600000]}},
  "y": {"field": "v", "type": "quantitative", "scale": {"domain": [-18.5, 48.3], "nice": false, "zero": false}, "axis": {"title": null, "values": [0, 25]}}
 },
 "layer": [
  {"data": {"format": {"parse": {"t": "date", "t2": "date"}}, "values": [
   {"t":"2026-06-01T21:00:00Z","t2":"2026-06-02T06:54:00Z","v":0}
  ]}, "mark": {"type": "rule", "color": "#ffa500", "strokeWidth": 2.5, "strokeCap": "butt", "clip": true}, "encoding": {"x2": {"field": "t2"}}},
  {"data": {"values": [
   {"t":"2026-06-01T21:03:00Z","v":-9,"v2":36},{"t":"2026-06-01T21:10:00Z","v":-11,"v2":40},{"t":"2026-06-01T21:40:00Z","v":-10,"v2":39},{"t":"2026-06-01T22:20:00Z","v":-11,"v2":40},{"t":"2026-06-01T23:00:00Z","v":-10,"v2":39.5},{"t":"2026-06-01T23:40:00Z","v":-11,"v2":40},{"t":"2026-06-02T00:20:00Z","v":-10,"v2":39},{"t":"2026-06-02T01:00:00Z","v":-11,"v2":40.5},{"t":"2026-06-02T01:40:00Z","v":-10,"v2":39},{"t":"2026-06-02T02:20:00Z","v":-11,"v2":40},{"t":"2026-06-02T03:00:00Z","v":-10,"v2":40},{"t":"2026-06-02T03:40:00Z","v":-11,"v2":39.5},{"t":"2026-06-02T04:20:00Z","v":-10,"v2":40},{"t":"2026-06-02T05:00:00Z","v":-11,"v2":40},{"t":"2026-06-02T05:40:00Z","v":-10,"v2":39},{"t":"2026-06-02T06:20:00Z","v":-11,"v2":40},{"t":"2026-06-02T06:34:00Z","v":-8,"v2":36}
  ]}, "mark": {"type": "area", "fill": "#ffa500", "opacity": 0.35, "clip": true}, "encoding": {"y2": {"field": "v2"}}},
  {"data": {"values": [
   {"t":"2026-06-01T21:03:00Z","v":-3,"v2":28},{"t":"2026-06-01T21:10:00Z","v":-4,"v2":30},{"t":"2026-06-01T21:40:00Z","v":-4.5,"v2":30},{"t":"2026-06-01T22:20:00Z","v":-4,"v2":29.5},{"t":"2026-06-01T23:00:00Z","v":-4.5,"v2":30},{"t":"2026-06-01T23:40:00Z","v":-4,"v2":30},{"t":"2026-06-02T00:20:00Z","v":-4.5,"v2":29.5},{"t":"2026-06-02T01:00:00Z","v":-4,"v2":30},{"t":"2026-06-02T01:40:00Z","v":-4.5,"v2":30},{"t":"2026-06-02T02:20:00Z","v":-4,"v2":30},{"t":"2026-06-02T03:00:00Z","v":-4.5,"v2":29.5},{"t":"2026-06-02T03:40:00Z","v":-4,"v2":30},{"t":"2026-06-02T04:20:00Z","v":-4.5,"v2":30},{"t":"2026-06-02T05:00:00Z","v":-4,"v2":30},{"t":"2026-06-02T05:40:00Z","v":-4.5,"v2":29.5},{"t":"2026-06-02T06:20:00Z","v":-4,"v2":30},{"t":"2026-06-02T06:34:00Z","v":-3,"v2":28}
  ]}, "mark": {"type": "area", "fill": "#ffa500", "stroke": "#ffa500", "strokeWidth": 1.5, "clip": true}, "encoding": {"y2": {"field": "v2"}}},
  {"data": {"values": [
   {"t":"2026-06-01T21:25:00Z","v":-14},{"t":"2026-06-01T22:20:00Z","v":-13},{"t":"2026-06-01T23:40:00Z","v":-14.5},{"t":"2026-06-02T01:10:00Z","v":-13},{"t":"2026-06-02T03:40:00Z","v":-14},{"t":"2026-06-02T05:10:00Z","v":-15},{"t":"2026-06-02T06:25:00Z","v":-13},{"t":"2026-06-02T00:30:00Z","v":44},{"t":"2026-06-02T02:10:00Z","v":45},{"t":"2026-06-02T03:30:00Z","v":47},{"t":"2026-06-02T04:05:00Z","v":44},{"t":"2026-06-01T22:00:00Z","v":43},{"t":"2026-06-02T05:40:00Z","v":44},{"t":"2026-06-01T21:40:00Z","v":-12.5},{"t":"2026-06-02T04:40:00Z","v":-12.5},{"t":"2026-06-02T02:50:00Z","v":43}
  ]}, "mark": {"type": "point", "filled": true, "size": 8, "color": "#ffa500", "opacity": 0.35, "clip": true}, "encoding": {}}
 ]
}
], "spacing": 76, "bounds": "flush", "resolve": {"scale": {"x": "independent", "y": "independent"}}},
{"hconcat": [
{
 "title": {"text": "NoRP 35GHz Stokes-I", "offset": -3.4}, "width": 327, "height": 103.3,
 "data": {"values": [{"x": 0.5, "y": 0.5, "label": "No Data"}]},
 "mark": {"type": "text", "fontSize": 27.8, "font": "DejaVu Sans", "color": "#000000"},
 "encoding": {
  "x": {"field": "x", "type": "quantitative", "scale": {"domain": [0, 1], "nice": false}, "axis": {"title": null, "values": [0, 0.2, 0.4, 0.6, 0.8, 1], "format": ".1f"}},
  "y": {"field": "y", "type": "quantitative", "scale": {"domain": [0, 1], "nice": false}, "axis": {"title": "Flux [SFU]", "values": [0, 0.5, 1], "format": ".1f"}},
  "text": {"field": "label"}
 }
},
{
 "title": {"text": "NoRP 35GHz Stokes-V", "offset": -3.4}, "width": 327, "height": 103.3,
 "data": {"values": [{"x": 0.5, "y": 0.5, "label": "No Data"}]},
 "mark": {"type": "text", "fontSize": 27.8, "font": "DejaVu Sans", "color": "#000000"},
 "encoding": {
  "x": {"field": "x", "type": "quantitative", "scale": {"domain": [0, 1], "nice": false}, "axis": {"title": null, "values": [0, 0.2, 0.4, 0.6, 0.8, 1], "format": ".1f"}},
  "y": {"field": "y", "type": "quantitative", "scale": {"domain": [0, 1], "nice": false}, "axis": {"title": null, "values": [0, 0.5, 1], "format": ".1f"}},
  "text": {"field": "label"}
 }
}
], "spacing": 76, "bounds": "flush", "resolve": {"scale": {"x": "independent", "y": "independent"}}},
{"hconcat": [
{
 "title": {"text": "NoRP 80GHz Stokes-I", "offset": -3.4}, "width": 327, "height": 103.3,
 "data": {"values": [{"x": 0.5, "y": 0.5, "label": "No Data"}]},
 "mark": {"type": "text", "fontSize": 27.8, "font": "DejaVu Sans", "color": "#000000"},
 "encoding": {
  "x": {"field": "x", "type": "quantitative", "scale": {"domain": [0, 1], "nice": false}, "axis": {"title": "Time[UT]", "values": [0, 0.2, 0.4, 0.6, 0.8, 1], "format": ".1f"}},
  "y": {"field": "y", "type": "quantitative", "scale": {"domain": [0, 1], "nice": false}, "axis": {"title": "Flux [SFU]", "values": [0, 0.5, 1], "format": ".1f"}},
  "text": {"field": "label"}
 }
},
{
 "title": {"text": "NoRP 80GHz Stokes-V", "offset": -3.4}, "width": 327, "height": 103.3,
 "data": {"values": [{"x": 0.5, "y": 0.5, "label": "No Data"}]},
 "mark": {"type": "text", "fontSize": 27.8, "font": "DejaVu Sans", "color": "#000000"},
 "encoding": {
  "x": {"field": "x", "type": "quantitative", "scale": {"domain": [0, 1], "nice": false}, "axis": {"title": "Time[UT]", "values": [0, 0.2, 0.4, 0.6, 0.8, 1], "format": ".1f"}},
  "y": {"field": "y", "type": "quantitative", "scale": {"domain": [0, 1], "nice": false}, "axis": {"title": null, "values": [0, 0.5, 1], "format": ".1f"}},
  "text": {"field": "label"}
 }
}
], "spacing": 76, "bounds": "flush", "resolve": {"scale": {"x": "independent", "y": "independent"}}}
]
}
